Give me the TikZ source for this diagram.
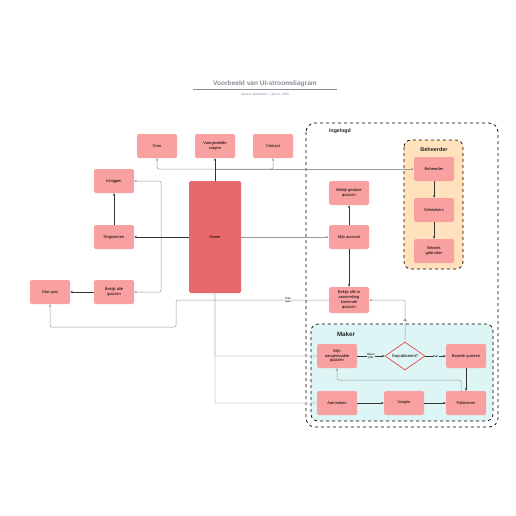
\documentclass[tikz,border=0pt]{standalone}
\usepackage{fontspec}
\setmainfont{Liberation Sans}
\usetikzlibrary{arrows.meta,shapes.geometric,backgrounds}

\definecolor{boxpink}{HTML}{F9A0A1}
\definecolor{homered}{HTML}{E8696B}
\definecolor{beheerfill}{HTML}{FFE2BC}
\definecolor{makerfill}{HTML}{DDF5F4}
\definecolor{diamred}{HTML}{E8595B}
\definecolor{titlegray}{HTML}{8C8C9A}
\definecolor{linedark}{HTML}{333333}
\definecolor{linegray}{HTML}{9A9A9A}
\definecolor{linelight}{HTML}{CFCFCF}

\tikzset{
  screen/.style={fill=boxpink, rounded corners=1.5pt, minimum width=40pt,
    minimum height=24pt, align=center, inner sep=1pt,
    font=\fontsize{4}{4.9}\selectfont},
  flow/.style={draw=linedark, line width=0.6pt, -{Stealth[length=2.6pt,width=2.2pt]}},
  link/.style={draw=linegray, line width=0.5pt, rounded corners=2pt,
    -{Stealth[length=2.6pt,width=2.2pt]}},
  faint/.style={draw=linelight, line width=0.8pt, rounded corners=2pt,
    -{Stealth[length=2.6pt,width=2.2pt]}},
  edgetext/.style={fill=white, inner sep=0.3pt, align=center,
    font=\fontsize{3}{3.4}\selectfont},
  grouptitle/.style={font=\bfseries\fontsize{5.5}{6}\selectfont, text=black!85}
}

\begin{document}
\begin{tikzpicture}[x=1pt,y=-1pt]
  \useasboundingbox [fill=white] (0,0) rectangle (516,516);

  % titel
  \node (title) at (265,84) {\bfseries\fontsize{6.6}{7.5}\selectfont\color{titlegray}Voorbeeld van UI-stroomdiagram};
  \draw [titlegray, line width=0.5pt] (193,89.5) -- (337,89.5);
  \node (sub) at (265,94.5) {\fontsize{3.2}{3.6}\selectfont\color{titlegray}System Templates \ | \ April 4, 2025};

  % groepen
  \draw [dashed, line width=0.7pt, rounded corners=9pt] (306,123) rectangle (498,427);
  \node [grouptitle, font=\bfseries\fontsize{5.2}{6}\selectfont] (ingelogd) at (340,131) {Ingelogd};

  \draw [dashed, line width=0.7pt, rounded corners=7pt, fill=beheerfill] (404,140) rectangle (463,269);
  \node [grouptitle] (beheergroep) at (434,150) {Beheerder};

  \draw [dashed, line width=0.7pt, rounded corners=7pt, fill=makerfill] (311,324) rectangle (493,421);
  \node [grouptitle, font=\bfseries\fontsize{6.2}{7}\selectfont] (makergroep) at (346,334) {Maker};

  % schermen
  \node [screen] (over) at (157,146) {Over};
  \node [screen] (vragen) at (215,146) {Voorgestelde\\vragen};
  \node [screen] (contact) at (273,146) {Contact};
  \node [screen] (inloggen) at (114,181) {Inloggen};
  \node [screen] (registreren) at (114,237) {Registreren};
  \node [screen] (bekijkalle) at (114,292) {Bekijk alle\\quizzen};
  \node [screen] (doequiz) at (50,292) {Doe quiz};
  \node [screen, fill=homered, minimum width=52pt, minimum height=112pt] (home) at (215,237) {Home};

  \node [screen] (beheerder) at (434,169) {Beheerder};
  \node [screen] (gebruikers) at (434,210) {Gebruikers};
  \node [screen] (bewerkgebr) at (434,251) {Bewerk\\gebruiker};

  \node [screen] (gedaan) at (349,193) {Bekijk gedane\\quizzen};
  \node [screen] (account) at (349,237) {Mijn account};
  \node [screen, minimum height=26pt] (aanmerking) at (349,300) {Bekijk alle in\\aanmerking\\komende\\quizzen};

  \node [screen] (mijnquiz) at (337,356) {Mijn\\aangemaakte\\quizzen};
  \node [diamond, draw=diamred, line width=0.8pt, fill=makerfill, minimum width=40pt,
    minimum height=28pt, inner sep=0pt, aspect=1.45, font=\fontsize{4}{4.9}\selectfont] (gepub) at (405,356) {Gepubliceerd?};
  \node [screen] (bewerkq) at (466,356) {Bewerk quizzen};
  \node [screen] (aanmaken) at (337,403) {Aanmaken};
  \node [screen] (vraag) at (404,403) {Vragen};
  \node [screen] (publiceren) at (466,403) {Publiceren};

  % hulppunten
  \coordinate (top) at (215,169);
  \coordinate (lft) at (161,237);
  \coordinate (kiesA) at (176,300);
  \coordinate (kiesB) at (176,327);
  \coordinate (pubtop) at (461,392);
  \coordinate (terug) at (461,380);

  % verbindingen vanaf home
  \draw [link] (top) -| (over.south);
  \draw [link] (top) -| (contact.south);
  \draw [link] (top) -- (beheerder.west);
  \draw [flow] (home.north) -- (vragen.south);
  \draw [link] (lft) |- (inloggen.east);
  \draw [link] (lft) |- (bekijkalle.east);
  \draw [flow] (home.west) -- (registreren.east);
  \draw [flow] (registreren.north) -- (inloggen.south);
  \draw [flow] (bekijkalle.west) -- (doequiz.east);
  \draw [faint] (home.south) |- (mijnquiz.west);
  \draw [faint] (home.south) |- (aanmaken.west);
  \draw [link] (home.east) -- (account.west);

  % ingelogd
  \draw [flow] (account.north) -- (gedaan.south);
  \draw [flow] (account.south) -- (aanmerking.north);
  \draw [link] (aanmerking.west) -- (kiesA) -- (kiesB) -| (doequiz.south);
  \node [edgetext] (kies) at (288,300) {Kies\\quiz};

  \draw [flow] (beheerder.south) -- (gebruikers.north);
  \draw [flow] (gebruikers.south) -- (bewerkgebr.north);

  % maker
  \draw [flow] (mijnquiz.east) -- node [edgetext, fill=makerfill] (open) {Open\\quiz} (gepub.west);
  \draw [flow] (gepub.east) -- node [edgetext, fill=makerfill] (nee) {Nee} (bewerkq.west);
  \draw [link] (gepub.north) |- node [edgetext, fill=makerfill, pos=0.25] (ja) {Ja} (aanmerking.east);
  \draw [flow] (bewerkq.south) -- (publiceren.north);
  \draw [link] (pubtop) -- (terug) -| (mijnquiz.south);
  \draw [flow] (aanmaken.east) -- (vraag.west);
  \draw [flow] (vraag.east) -- (publiceren.west);
\end{tikzpicture}
\end{document}
